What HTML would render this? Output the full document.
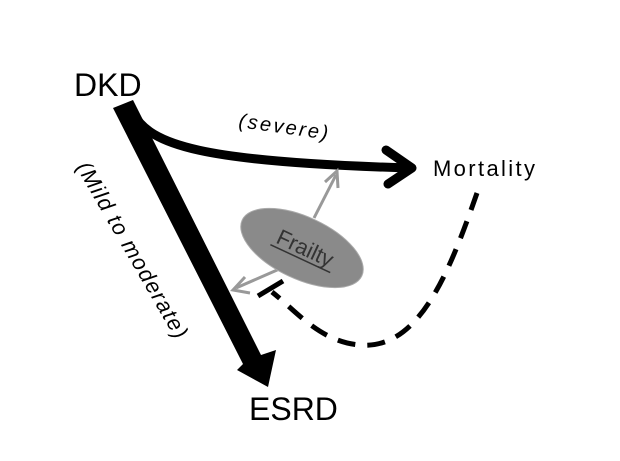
<!DOCTYPE html>
<html><head><style>body{margin:0;background:#fff}svg{display:block}</style></head><body>
<svg width="620" height="461" viewBox="0 0 620 461" xmlns="http://www.w3.org/2000/svg" font-family="Liberation Sans, sans-serif">
<rect width="620" height="461" fill="#fff"/>
<text x="74" y="96" font-size="32">DKD</text>
<text x="249" y="420" font-size="32">ESRD</text>
<text x="433" y="176" font-size="22" textLength="102">Mortality</text>
<text transform="translate(238,127) rotate(8)" font-size="20" font-style="italic" textLength="90">(severe)</text>
<text transform="translate(76,167) rotate(60)" font-size="22" font-style="italic" textLength="200">(Mild to moderate)</text>
<!-- thick bar -->
<polygon points="113,108 133,100 261,355 276,350 268,387 237,370 243,364" fill="#000"/>
<!-- curved arrow -->
<path d="M133,113 C150,145 200,162 410,168" fill="none" stroke="#000" stroke-width="9"/>
<polyline points="386,150 412,168 388,184" fill="none" stroke="#000" stroke-width="9" stroke-linecap="round" stroke-linejoin="round"/>
<!-- dashed -->
<path d="M477,193 C450,270 420,350 360,345 C320,342 295,310 272,292" fill="none" stroke="#000" stroke-width="5" stroke-dasharray="18,12"/>
<line x1="258" y1="296" x2="283" y2="281" stroke="#000" stroke-width="5"/>
<!-- gray arrows -->
<line x1="314" y1="218" x2="336" y2="175" stroke="#999" stroke-width="3"/>
<polyline points="325,182 337,171 338,188" fill="none" stroke="#999" stroke-width="3"/>
<line x1="284" y1="267" x2="236" y2="288" stroke="#999" stroke-width="3"/>
<polyline points="245,277 233,290 250,293" fill="none" stroke="#999" stroke-width="3"/>
<!-- ellipse -->
<ellipse cx="302" cy="248" rx="66" ry="31" transform="rotate(25 302 248)" fill="#8a8a8a" stroke="#aaa" stroke-width="1"/>
<g transform="translate(302,255) rotate(25)">
<text x="0" y="0" font-size="22" text-anchor="middle" fill="#333">Frailty</text>
<line x1="-33" y1="4" x2="33" y2="4" stroke="#333" stroke-width="1.5"/>
</g>
</svg>
</body></html>
